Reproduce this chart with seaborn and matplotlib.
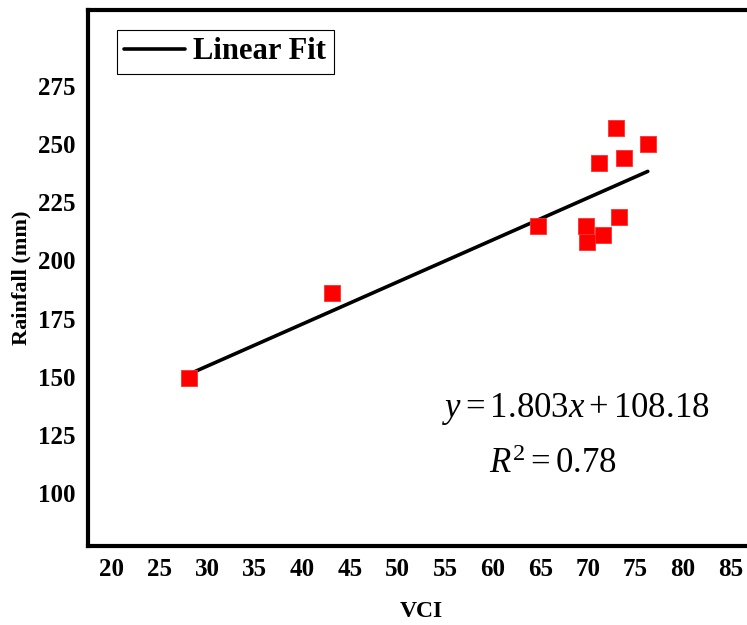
import numpy as np
import pandas as pd
import seaborn as sns
import matplotlib.pyplot as plt

# VCI vs rainfall
vci = [28.1, 43.1, 64.75, 69.8, 69.9, 71.6, 73.3, 71.2, 73.0, 73.8, 76.3]
rainfall = [149.5, 186, 214.9, 214.9, 208, 211, 218.8, 242, 257, 244, 250]
x_ticks = [20, 25, 30, 35, 40, 45, 50, 55, 60, 65, 70, 75, 80, 85]
y_ticks = [100, 125, 150, 175, 200, 225, 250, 275]
equation = r'$y = 1.803x + 108.18$'
r2_text = r'$R^2 = 0.78$'

df = pd.DataFrame({'VCI': vci, 'Rainfall': rainfall})

sns.set_style('white')
plt.rcParams['font.family'] = ['Liberation Serif', 'DejaVu Serif']
plt.rcParams['mathtext.fontset'] = 'custom'
plt.rcParams['mathtext.rm'] = 'Liberation Serif'
plt.rcParams['mathtext.it'] = 'Liberation Serif:italic'
plt.rcParams['text.color'] = 'black'
plt.rcParams['axes.labelcolor'] = 'black'
plt.rcParams['xtick.color'] = 'black'
plt.rcParams['ytick.color'] = 'black'

fig = plt.figure(figsize=(7.47, 6.25), dpi=100)
ax = fig.add_axes([0.1178, 0.1264, 0.8921, 0.8576])

# fit line first so squares sit on top
sns.regplot(data=df, x='VCI', y='Rainfall', scatter=False, ci=None, ax=ax,
            label='Linear Fit', line_kws={'color': 'black', 'lw': 2.6})
sns.scatterplot(data=df, x='VCI', y='Rainfall', marker='s', s=120, color='#ff0000',
                edgecolor='#ff3030', linewidth=0.6, ax=ax, zorder=3, legend=False)

ax.set_xlim(17.5, 87.5)
ax.set_ylim(77.2, 307.7)
ax.set_xticks(x_ticks)
ax.set_yticks(y_ticks)
ax.tick_params(length=0, labelsize=18)
ax.tick_params(axis='x', pad=9)
ax.tick_params(axis='y', pad=9)
for lab in ax.get_xticklabels() + ax.get_yticklabels():
    lab.set_fontweight('bold')

ax.set_xlabel('VCI', fontsize=17, fontweight='bold', labelpad=14)
ax.set_ylabel('Rainfall (mm)', fontsize=16, fontweight='bold', labelpad=5)

for sp in ax.spines.values():
    sp.set_linewidth(3)
    sp.set_color('black')

ax.text(54.7, 132.7, equation, fontsize=25, ha='left', va='baseline')
ax.text(59.6, 108.6, r2_text, fontsize=25, ha='left', va='baseline')

leg = ax.legend(loc='upper left', bbox_to_anchor=(0.043, 0.963), fancybox=False,
                framealpha=1, edgecolor='black', prop={'weight': 'bold', 'size': 22},
                handlelength=2.0, handletextpad=0.25, borderpad=0.25, borderaxespad=0)
leg.get_frame().set_linewidth(0.8)

fig.savefig('out.png', dpi=100)
